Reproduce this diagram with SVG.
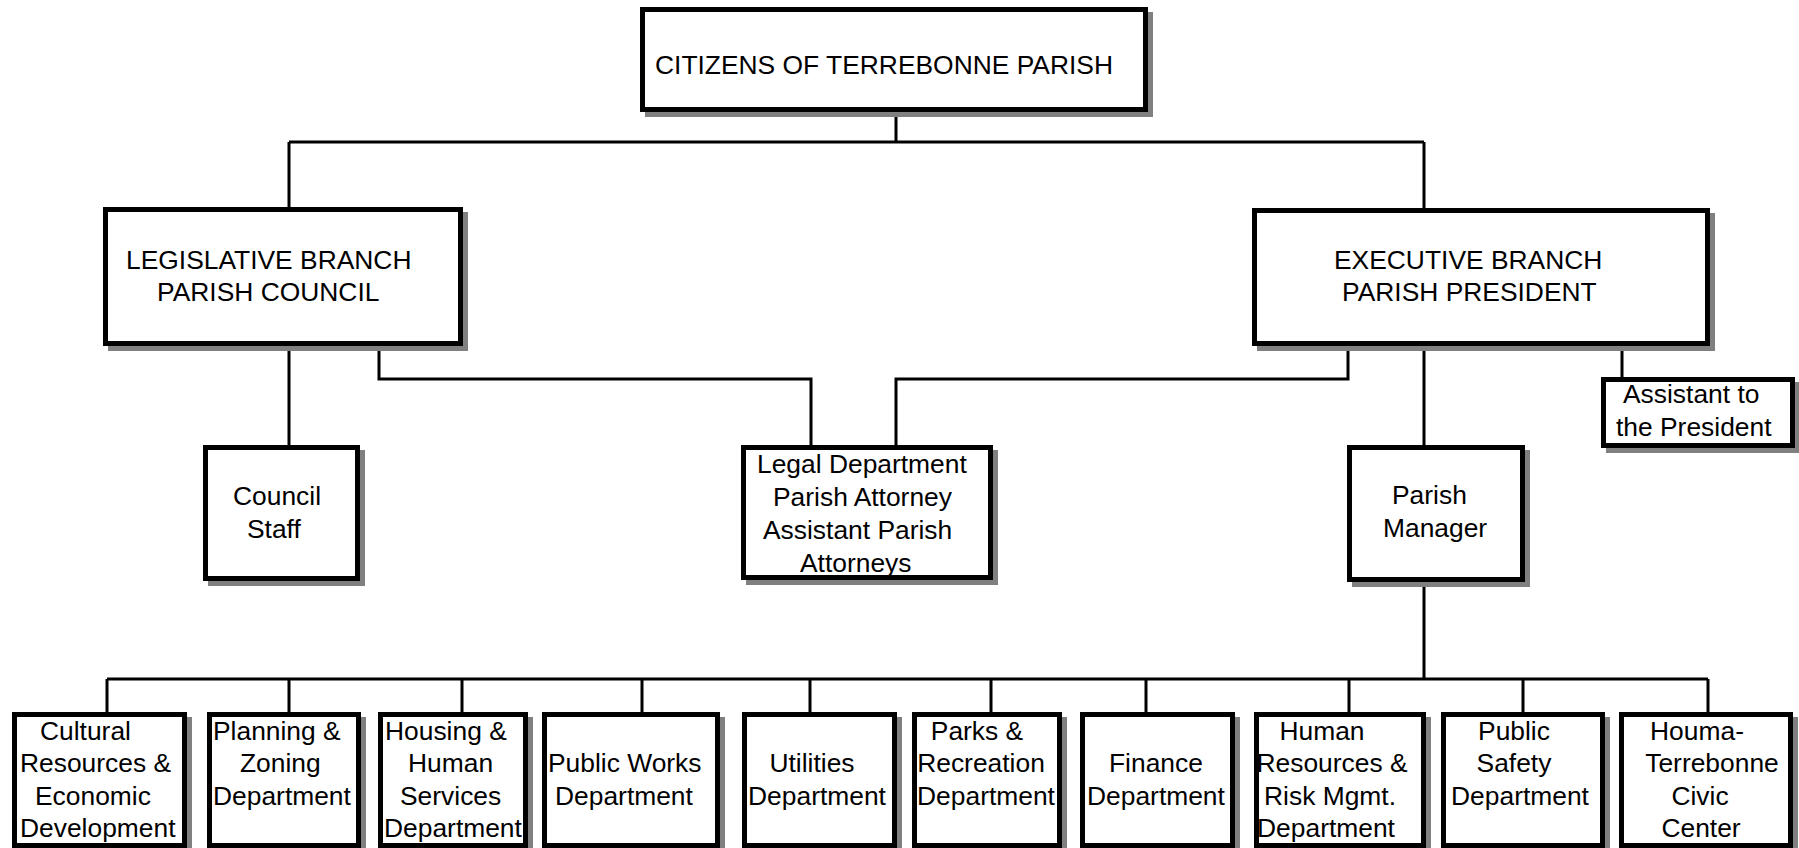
<svg xmlns="http://www.w3.org/2000/svg" width="1799" height="848" viewBox="0 0 1799 848">
<style>
.sh{fill:#808080;stroke:none}
.bx{fill:#fff;stroke:#000;stroke-width:5}
.t{font-family:"Liberation Sans",Arial,sans-serif;font-size:26.4px;fill:#000}
.m{text-anchor:middle}
.c{fill:none;stroke:#000;stroke-width:3}
</style>
<rect width="1799" height="848" fill="#fff"/>
<g id="connectors">
<path class="c" d="M896,112V142M289,142H1424M289,142V207M1424,142V208"/>
<path class="c" d="M289,346V445M379,346V379H811V445M1348,346V379H896V445M1424,346V445M1622,346V377"/>
<path class="c" d="M1424,582V679M107,679H1708"/>
<path class="c" d="M107,679V712M289,679V712M462,679V712M642,679V712M810,679V712M991,679V712M1146,679V712M1349,679V712M1523,679V712M1708,679V712"/>
</g>
<g id="citizens">
<rect class="sh" x="645" y="12" width="508" height="105"/>
<rect class="bx" x="642.5" y="9.5" width="503" height="100"/>
<text class="t" x="655" y="74">CITIZENS OF TERREBONNE PARISH</text>
</g>
<g id="legislative">
<rect class="sh" x="108" y="212" width="360" height="139"/>
<rect class="bx" x="105.5" y="209.5" width="355" height="134"/>
<text class="t" x="126" y="269">LEGISLATIVE BRANCH</text>
<text class="t" x="157" y="301">PARISH COUNCIL</text>
</g>
<g id="executive">
<rect class="sh" x="1257" y="213" width="458" height="138"/>
<rect class="bx" x="1254.5" y="210.5" width="453" height="133"/>
<text class="t" x="1334" y="269">EXECUTIVE BRANCH</text>
<text class="t" x="1342" y="301">PARISH PRESIDENT</text>
</g>
<g id="council-staff">
<rect class="sh" x="208" y="450" width="157" height="136"/>
<rect class="bx" x="205.5" y="447.5" width="152" height="131"/>
<text class="t" x="233" y="505">Council</text>
<text class="t" x="247" y="538">Staff</text>
</g>
<g id="legal">
<rect class="sh" x="746" y="450" width="252" height="135"/>
<rect class="bx" x="743.5" y="447.5" width="247" height="130"/>
<text class="t" x="757" y="473">Legal Department</text>
<text class="t" x="773" y="506">Parish Attorney</text>
<text class="t" x="763" y="539">Assistant Parish</text>
<text class="t" x="800" y="572">Attorneys</text>
</g>
<g id="parish-manager">
<rect class="sh" x="1352" y="450" width="178" height="137"/>
<rect class="bx" x="1349.5" y="447.5" width="173" height="132"/>
<text class="t" x="1392" y="504">Parish</text>
<text class="t" x="1383" y="537">Manager</text>
</g>
<g id="assistant">
<rect class="sh" x="1606" y="382" width="194" height="71"/>
<rect class="bx" x="1603.5" y="379.5" width="189" height="66"/>
<text class="t" x="1623" y="403">Assistant to</text>
<text class="t" x="1616" y="436">the President</text>
</g>
<g id="cultural">
<rect class="sh" x="17" y="717" width="175" height="140"/>
<rect class="bx" x="14.5" y="714.5" width="170" height="131"/>
<text class="t" x="40" y="740">Cultural</text>
<text class="t" x="20" y="772">Resources &amp;</text>
<text class="t" x="35" y="805">Economic</text>
<text class="t" x="20" y="837">Development</text>
</g>
<g id="planning">
<rect class="sh" x="212" y="717" width="154" height="140"/>
<rect class="bx" x="209.5" y="714.5" width="149" height="131"/>
<text class="t" x="213" y="740">Planning &amp;</text>
<text class="t" x="240" y="772">Zoning</text>
<text class="t" x="213" y="805">Department</text>
</g>
<g id="housing">
<rect class="sh" x="383" y="717" width="150" height="140"/>
<rect class="bx" x="380.5" y="714.5" width="145" height="131"/>
<text class="t" x="385" y="740">Housing &amp;</text>
<text class="t" x="408" y="772">Human</text>
<text class="t" x="400" y="805">Services</text>
<text class="t" x="384" y="837">Department</text>
</g>
<g id="public-works">
<rect class="sh" x="547" y="717" width="178" height="140"/>
<rect class="bx" x="544.5" y="714.5" width="173" height="131"/>
<text class="t" x="548" y="772">Public Works</text>
<text class="t" x="555" y="805">Department</text>
</g>
<g id="utilities">
<rect class="sh" x="747" y="717" width="155" height="140"/>
<rect class="bx" x="744.5" y="714.5" width="150" height="131"/>
<text class="t m" x="812" y="772">Utilities</text>
<text class="t m" x="817" y="805">Department</text>
</g>
<g id="parks">
<rect class="sh" x="917" y="717" width="150" height="140"/>
<rect class="bx" x="914.5" y="714.5" width="145" height="131"/>
<text class="t m" x="977" y="740">Parks &amp;</text>
<text class="t m" x="981" y="772">Recreation</text>
<text class="t m" x="986" y="805">Department</text>
</g>
<g id="finance">
<rect class="sh" x="1085" y="717" width="155" height="140"/>
<rect class="bx" x="1082.5" y="714.5" width="150" height="131"/>
<text class="t" x="1109" y="772">Finance</text>
<text class="t" x="1087" y="805">Department</text>
</g>
<g id="human-resources">
<rect class="sh" x="1259" y="717" width="172" height="140"/>
<rect class="bx" x="1256.5" y="714.5" width="167" height="131"/>
<text class="t m" x="1322" y="740">Human</text>
<text class="t m" x="1332" y="772">Resources &amp;</text>
<text class="t m" x="1330" y="805">Risk Mgmt.</text>
<text class="t m" x="1326" y="837">Department</text>
</g>
<g id="public-safety">
<rect class="sh" x="1446" y="717" width="164" height="140"/>
<rect class="bx" x="1443.5" y="714.5" width="159" height="131"/>
<text class="t m" x="1514" y="740">Public</text>
<text class="t m" x="1514" y="772">Safety</text>
<text class="t m" x="1520" y="805">Department</text>
</g>
<g id="houma">
<rect class="sh" x="1624" y="717" width="174" height="140"/>
<rect class="bx" x="1621.5" y="714.5" width="169" height="131"/>
<text class="t m" x="1697" y="740">Houma-</text>
<text class="t m" x="1712" y="772">Terrebonne</text>
<text class="t m" x="1700" y="805">Civic</text>
<text class="t m" x="1701" y="837">Center</text>
</g>
</svg>
